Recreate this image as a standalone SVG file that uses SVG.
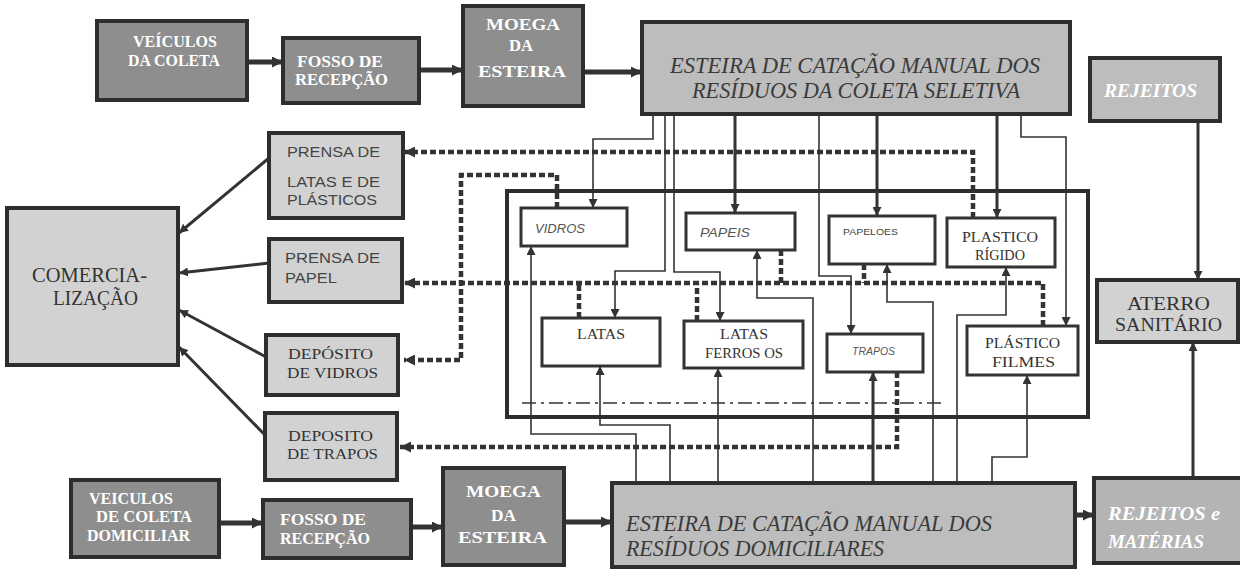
<svg xmlns="http://www.w3.org/2000/svg" width="1240" height="575" viewBox="0 0 1240 575">
<style>
.dk{fill:#8e8e8e;stroke:#2e2e2e;stroke-width:4}
.md{fill:#bdbdbd;stroke:#2e2e2e;stroke-width:4}
.rj{fill:#b4b4b4;stroke:#2e2e2e;stroke-width:4}
.lt{fill:#d2d2d2;stroke:#2e2e2e;stroke-width:4}
.wb{fill:#ffffff;stroke:#333333;stroke-width:3}
.tw{font-family:"Liberation Serif","Times New Roman",serif;font-weight:bold;fill:#ffffff;font-size:17px}
.twi{font-family:"Liberation Serif","Times New Roman",serif;font-weight:bold;font-style:italic;fill:#ffffff;font-size:19px}
.ts{font-family:"Liberation Serif","Times New Roman",serif;fill:#333333}
.tsi{font-family:"Liberation Serif","Times New Roman",serif;font-style:italic;fill:#3a3a3a;font-size:24px}
.sa{font-family:"Liberation Sans",Arial,sans-serif;fill:#444444}
.sai{font-family:"Liberation Sans",Arial,sans-serif;font-style:italic;fill:#555555}
.c{fill:none;stroke:#333333;stroke-linejoin:miter}
.thk{stroke-width:5}
.med{stroke-width:3}
.thn{stroke-width:1.6}
.dot{stroke-width:4.5;stroke-dasharray:6 3}
.dd{stroke-width:1.5;stroke-dasharray:14 5 3 5}
</style>
<defs>
<marker id="ah" viewBox="0 0 10 10" refX="10" refY="5" markerWidth="11" markerHeight="11" markerUnits="userSpaceOnUse" orient="auto">
<path d="M0,0 L10,5 L0,10 z" fill="#333333"/>
</marker>
<marker id="as" viewBox="0 0 10 10" refX="10" refY="5" markerWidth="9" markerHeight="9" markerUnits="userSpaceOnUse" orient="auto">
<path d="M0,0 L10,5 L0,10 z" fill="#333333"/>
</marker>
</defs>

<g id="connectors">
<!-- top row -->
<path class="c thk" d="M247,62 H283" marker-end="url(#ah)"/>
<path class="c thk" d="M419,70 H463" marker-end="url(#ah)"/>
<path class="c thk" d="M583,72 H642" marker-end="url(#ah)"/>
<!-- bottom row -->
<path class="c thk" d="M219,523 H263" marker-end="url(#ah)"/>
<path class="c thk" d="M411,527 H443" marker-end="url(#ah)"/>
<path class="c thk" d="M564,522 H612" marker-end="url(#ah)"/>
<path class="c thk" d="M1075,515 H1094" marker-end="url(#ah)"/>
<!-- to aterro -->
<path class="c med" d="M1198,121 V280" marker-end="url(#as)"/>
<path class="c med" d="M1193,478 V342" marker-end="url(#as)"/>
<!-- to comercializacao -->
<path class="c med" d="M269,158 L179,233" marker-end="url(#as)"/>
<path class="c med" d="M269,263 L179,273" marker-end="url(#as)"/>
<path class="c med" d="M266,357 L179,310" marker-end="url(#as)"/>
<path class="c med" d="M265,435 L179,347" marker-end="url(#as)"/>
<!-- from top esteira -->
<path class="c thn" d="M653,114 V139 H593 V208" marker-end="url(#as)"/>
<path class="c thn" d="M665,114 V271 H615 V318" marker-end="url(#as)"/>
<path class="c thn" d="M674,114 V272 H720 V321" marker-end="url(#as)"/>
<path class="c med" d="M735,114 V213" marker-end="url(#as)"/>
<path class="c thn" d="M819,114 V276 H851 V334" marker-end="url(#as)"/>
<path class="c med" d="M877,114 V216" marker-end="url(#as)"/>
<path class="c med" d="M997,114 V218" marker-end="url(#as)"/>
<path class="c thn" d="M1021,114 V137 H1066 V326" marker-end="url(#as)"/>
<!-- from bottom esteira -->
<path class="c thn" d="M636,483 V434 H531 V246" marker-end="url(#as)"/>
<path class="c thn" d="M670,483 V425 H600 V366" marker-end="url(#as)"/>
<path class="c thn" d="M718,483 V368" marker-end="url(#as)"/>
<path class="c thn" d="M813,483 V298 H757 V250" marker-end="url(#as)"/>
<path class="c med" d="M873,483 V372" marker-end="url(#as)"/>
<path class="c thn" d="M933,483 V302 H887 V264" marker-end="url(#as)"/>
<path class="c thn" d="M957,483 V315 H1006 V267" marker-end="url(#as)"/>
<path class="c thn" d="M992,483 V457 H1027 V375" marker-end="url(#as)"/>
<!-- dotted flows -->
<path class="c dot" d="M973,218 V152 H404" marker-end="url(#ah)"/>
<path class="c dot" d="M557,208 V175 H461 V360 H404" marker-end="url(#ah)"/>
<path class="c dot" d="M1043,326 V283 H404" marker-end="url(#ah)"/>
<path class="c dot" d="M579,318 V283"/>
<path class="c dot" d="M697,321 V283"/>
<path class="c dot" d="M781,250 V283"/>
<path class="c dot" d="M864,264 V283"/>
<path class="c dot" d="M897,372 V447 H400" marker-end="url(#ah)"/>
<!-- dash-dot -->
<path class="c dd" d="M522,403 H942"/>
<!-- inner frame -->
<rect x="507" y="191" width="581" height="226" fill="none" stroke="#2e2e2e" stroke-width="4"/>
</g>

<g id="veiculos-coleta">
<rect class="dk" x="97" y="21" width="150" height="79"/>
<text class="tw" x="133" y="47" textLength="84" lengthAdjust="spacingAndGlyphs">VEÍCULOS</text>
<text class="tw" x="128" y="66" textLength="92" lengthAdjust="spacingAndGlyphs">DA COLETA</text>
</g>
<g id="fosso-top">
<rect class="dk" x="283" y="38" width="136" height="65"/>
<text class="tw" x="297" y="67" textLength="86" lengthAdjust="spacingAndGlyphs">FOSSO DE</text>
<text class="tw" x="295" y="85" textLength="93" lengthAdjust="spacingAndGlyphs">RECEPÇÃO</text>
</g>
<g id="moega-top">
<rect class="dk" x="463" y="6" width="120" height="100"/>
<text class="tw" x="486" y="30" textLength="74" lengthAdjust="spacingAndGlyphs" font-size="19">MOEGA</text>
<text class="tw" x="509" y="51" textLength="24" lengthAdjust="spacingAndGlyphs" font-size="19">DA</text>
<text class="tw" x="478" y="77" textLength="88" lengthAdjust="spacingAndGlyphs" font-size="19">ESTEIRA</text>
</g>
<g id="esteira-seletiva">
<rect class="md" x="642" y="22" width="428" height="92"/>
<text class="tsi" x="670" y="73" textLength="370" lengthAdjust="spacingAndGlyphs">ESTEIRA DE CATAÇÃO MANUAL DOS</text>
<text class="tsi" x="692" y="98" textLength="328" lengthAdjust="spacingAndGlyphs">RESÍDUOS DA COLETA SELETIVA</text>
</g>
<g id="rejeitos-top">
<rect class="md" x="1090" y="58" width="130" height="63"/>
<text class="twi" x="1104" y="97" textLength="93" lengthAdjust="spacingAndGlyphs" font-size="18">REJEITOS</text>
</g>

<g id="comercializacao">
<rect class="lt" x="7" y="208" width="171" height="157"/>
<text class="ts" x="32" y="282" font-size="21" textLength="115" lengthAdjust="spacingAndGlyphs">COMERCIA-</text>
<text class="ts" x="53" y="305" font-size="21" textLength="85" lengthAdjust="spacingAndGlyphs">LIZAÇÃO</text>
</g>
<g id="prensa-latas">
<rect class="lt" x="269" y="133" width="134" height="85"/>
<text class="sa" x="287" y="157" font-size="14" textLength="93" lengthAdjust="spacingAndGlyphs">PRENSA DE</text>
<text class="sa" x="287" y="187" font-size="14" textLength="93" lengthAdjust="spacingAndGlyphs">LATAS E DE</text>
<text class="sa" x="287" y="205" font-size="14" textLength="90" lengthAdjust="spacingAndGlyphs">PLÁSTICOS</text>
</g>
<g id="prensa-papel">
<rect class="lt" x="269" y="239" width="133" height="63"/>
<text class="sa" x="285" y="263" font-size="14" textLength="95" lengthAdjust="spacingAndGlyphs">PRENSA DE</text>
<text class="sa" x="285" y="283" font-size="14" textLength="52" lengthAdjust="spacingAndGlyphs">PAPEL</text>
</g>
<g id="deposito-vidros">
<rect class="lt" x="266" y="335" width="132" height="60"/>
<text class="ts" x="288" y="359" font-size="15" textLength="85" lengthAdjust="spacingAndGlyphs">DEPÓSITO</text>
<text class="ts" x="287" y="378" font-size="15" textLength="91" lengthAdjust="spacingAndGlyphs">DE VIDROS</text>
</g>
<g id="deposito-trapos">
<rect class="lt" x="265" y="413" width="132" height="67"/>
<text class="ts" x="288" y="441" font-size="15" textLength="85" lengthAdjust="spacingAndGlyphs">DEPOSITO</text>
<text class="ts" x="287" y="459" font-size="15" textLength="91" lengthAdjust="spacingAndGlyphs">DE TRAPOS</text>
</g>

<g id="vidros">
<rect class="wb" x="521" y="208" width="106" height="38"/>
<text class="sai" x="535" y="233" font-size="13" textLength="50" lengthAdjust="spacingAndGlyphs">VIDROS</text>
</g>
<g id="papeis">
<rect class="wb" x="686" y="213" width="109" height="37"/>
<text class="sai" x="700" y="237" font-size="13" textLength="50" lengthAdjust="spacingAndGlyphs">PAPEIS</text>
</g>
<g id="papeloes">
<rect class="wb" x="829" y="216" width="106" height="48"/>
<text class="sa" x="843" y="235" font-size="9" textLength="55" lengthAdjust="spacingAndGlyphs">PAPELOES</text>
</g>
<g id="plastico-rigido">
<rect class="wb" x="947" y="218" width="108" height="49"/>
<text class="ts" x="962" y="242" font-size="15" textLength="76" lengthAdjust="spacingAndGlyphs">PLASTICO</text>
<text class="ts" x="975" y="260" font-size="15" textLength="50" lengthAdjust="spacingAndGlyphs">RÍGIDO</text>
</g>
<g id="latas">
<rect class="wb" x="542" y="318" width="118" height="48"/>
<text class="ts" x="577" y="339" font-size="14" textLength="48" lengthAdjust="spacingAndGlyphs">LATAS</text>
</g>
<g id="latas-ferrosos">
<rect class="wb" x="684" y="321" width="119" height="47"/>
<text class="ts" x="720" y="339" font-size="14" textLength="48" lengthAdjust="spacingAndGlyphs">LATAS</text>
<text class="ts" x="705" y="358" font-size="14" textLength="78" lengthAdjust="spacingAndGlyphs">FERROS OS</text>
</g>
<g id="trapos">
<rect class="wb" x="827" y="334" width="96" height="38"/>
<text class="sai" x="852" y="355" font-size="11" textLength="43" lengthAdjust="spacingAndGlyphs">TRAPOS</text>
</g>
<g id="plastico-filmes">
<rect class="wb" x="967" y="326" width="111" height="49"/>
<text class="ts" x="985" y="348" font-size="15" textLength="75" lengthAdjust="spacingAndGlyphs">PLÁSTICO</text>
<text class="ts" x="992" y="367" font-size="15" textLength="63" lengthAdjust="spacingAndGlyphs">FILMES</text>
</g>

<g id="aterro">
<rect class="lt" x="1097" y="280" width="141" height="62"/>
<text class="ts" x="1127" y="310" font-size="18" textLength="83" lengthAdjust="spacingAndGlyphs">ATERRO</text>
<text class="ts" x="1115" y="331" font-size="18" textLength="107" lengthAdjust="spacingAndGlyphs">SANITÁRIO</text>
</g>

<g id="veiculos-domiciliar">
<rect class="dk" x="71" y="480" width="148" height="77"/>
<text class="tw" x="89" y="504" font-size="16" textLength="84" lengthAdjust="spacingAndGlyphs">VEICULOS</text>
<text class="tw" x="96" y="522" font-size="16" textLength="96" lengthAdjust="spacingAndGlyphs">DE COLETA</text>
<text class="tw" x="87" y="541" font-size="16" textLength="103" lengthAdjust="spacingAndGlyphs">DOMICILIAR</text>
</g>
<g id="fosso-bottom">
<rect class="dk" x="263" y="500" width="148" height="58"/>
<text class="tw" x="280" y="525" textLength="86" lengthAdjust="spacingAndGlyphs">FOSSO DE</text>
<text class="tw" x="280" y="544" textLength="90" lengthAdjust="spacingAndGlyphs">RECEPÇÃO</text>
</g>
<g id="moega-bottom">
<rect class="dk" x="443" y="468" width="121" height="97"/>
<text class="tw" x="466" y="497" font-size="19" textLength="75" lengthAdjust="spacingAndGlyphs">MOEGA</text>
<text class="tw" x="491" y="521" font-size="19" textLength="25" lengthAdjust="spacingAndGlyphs">DA</text>
<text class="tw" x="458" y="543" font-size="19" textLength="89" lengthAdjust="spacingAndGlyphs">ESTEIRA</text>
</g>
<g id="esteira-domiciliar">
<rect class="md" x="612" y="483" width="463" height="84"/>
<text class="tsi" x="626" y="531" textLength="366" lengthAdjust="spacingAndGlyphs">ESTEIRA DE CATAÇÃO MANUAL DOS</text>
<text class="tsi" x="626" y="556" textLength="258" lengthAdjust="spacingAndGlyphs">RESÍDUOS DOMICILIARES</text>
</g>
<g id="rejeitos-materias">
<rect class="rj" x="1094" y="478" width="150" height="85"/>
<text class="twi" x="1108" y="520" textLength="112" lengthAdjust="spacingAndGlyphs">REJEITOS e</text>
<text class="twi" x="1108" y="548" textLength="96" lengthAdjust="spacingAndGlyphs">MATÉRIAS</text>
</g>
</svg>
